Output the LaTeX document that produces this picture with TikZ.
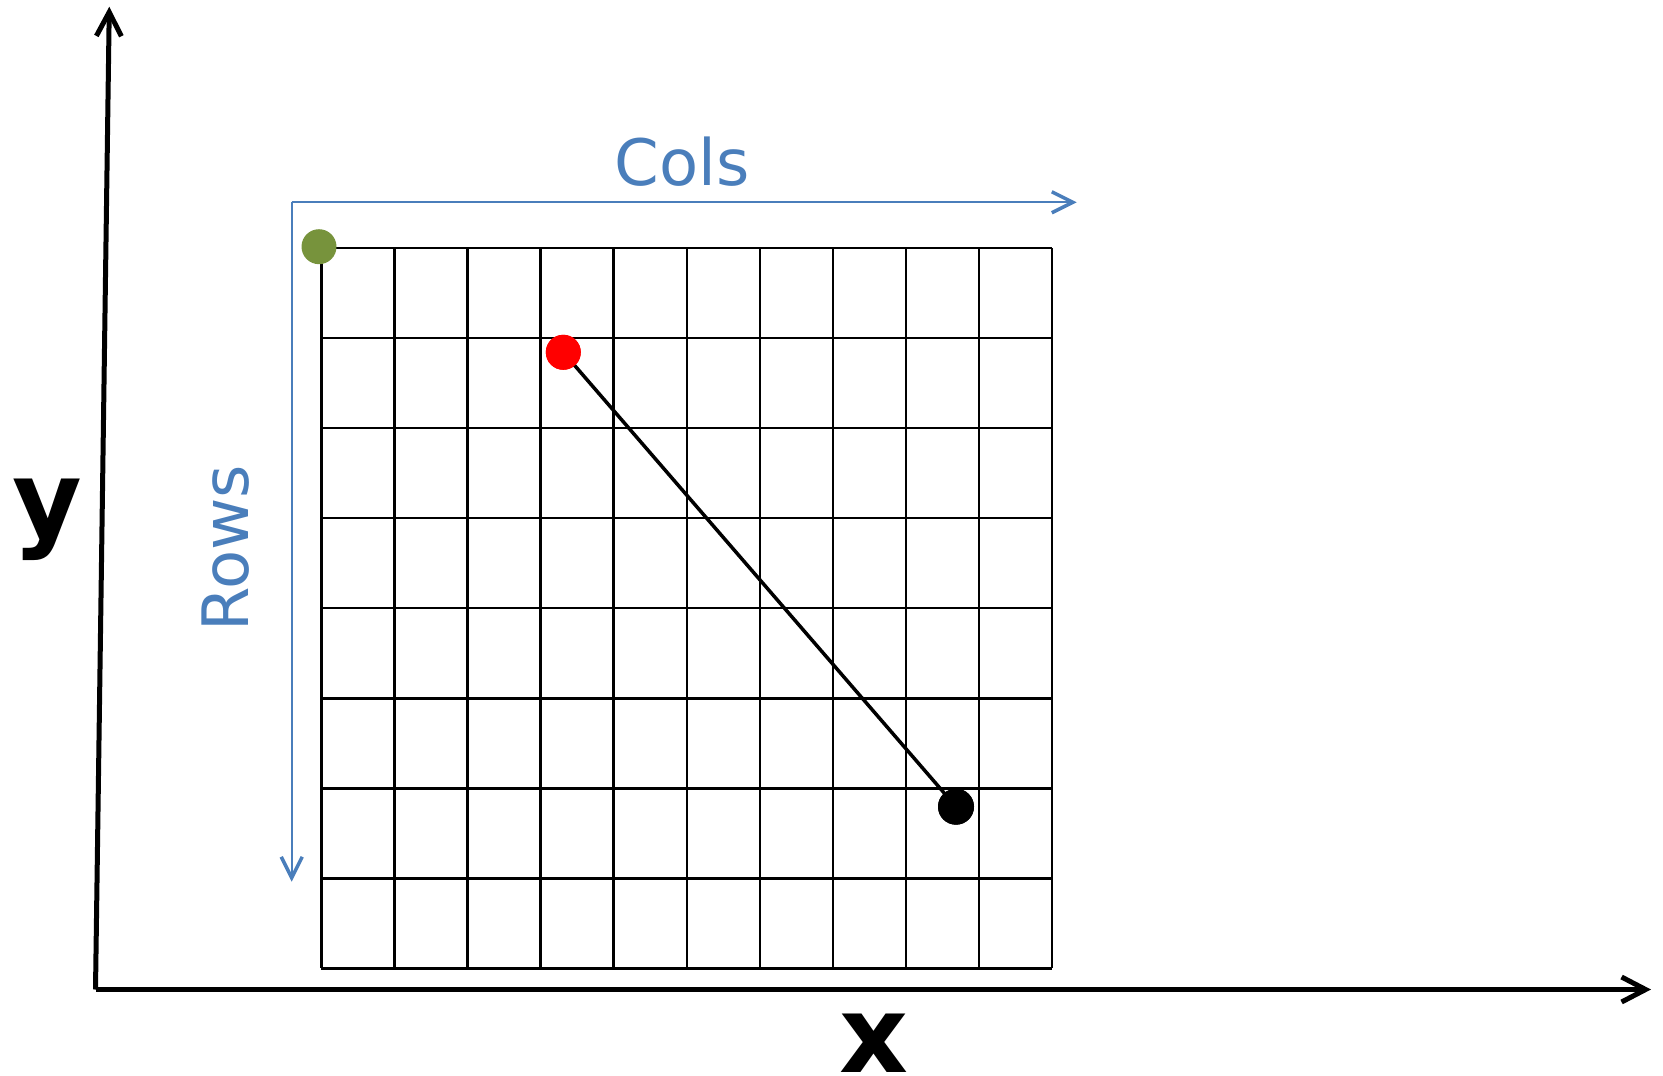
\documentclass[tikz,border=0pt]{standalone}
\usepackage{fontspec}
\setmainfont{DejaVu Sans}
\usetikzlibrary{arrows.meta}
\definecolor{axisblue}{HTML}{4A7EBB}
\definecolor{dotgreen}{HTML}{77933C}
\tikzset{
  axisline/.style={line width=5pt, black},
  bluearrow/.style={line width=2pt, axisblue, -{Straight Barb[length=21pt, width=21pt, line width=3.5pt]}},
  gridline/.style={line width=2.5pt, black},
  dot/.style={circle, inner sep=0pt, minimum size=35pt, fill=#1, draw=none},
  bluetext/.style={text=axisblue, font=\fontsize{64}{70}\selectfont},
  axistext/.style={text=black, font=\bfseries\fontsize{107}{110}\selectfont},
}
\begin{document}
\begin{tikzpicture}[x=1pt, y=-1pt]
\useasboundingbox (0,0) rectangle (1663,1076);
% grid
\foreach \i in {0,...,10} {
  \draw[gridline] ({321.4+\i*73.07},248.2) -- ({321.4+\i*73.07},968.3);
}
\foreach \j in {0,...,8} {
  \draw[gridline] (321.4,{248.2+\j*90.01}) -- (1052.1,{248.2+\j*90.01});
}
% axes
\coordinate (origin) at (95.5,989.5);
\coordinate (ytip) at (109.3,6.7);
\coordinate (xtip) at (1651,989.5);
\draw[axisline, -{Straight Barb[length=24pt, width=25pt]}] (origin) -- (ytip);
\draw[axisline, -{Straight Barb[length=24pt, width=25pt]}] (origin) -- (xtip);
% cols / rows arrows
\coordinate (corner) at (291.7,202.3);
\coordinate (colstip) at (1076.7,202.3);
\coordinate (rowstip) at (291.7,881.7);
\draw[bluearrow] (corner) -- (colstip);
\draw[bluearrow] (corner) -- (rowstip);
% dots and segment
\node[dot=dotgreen] (green) at (319,246.7) {};
\node[dot=red] (reddot) at (563.3,352.3) {};
\node[dot=black, minimum size=36pt] (blackdot) at (956,806.7) {};
\draw[line width=3.5pt, black] (reddot.center) -- (blackdot.center);
\node[dot=red] at (reddot.center) {};
\node[dot=black, minimum size=36pt] at (blackdot.center) {};
% labels
\node[bluetext, anchor=base, inner sep=0pt] (cols) at (682,185.7) {Cols};
\node[bluetext, anchor=base, rotate=90, inner sep=0pt] (rows) at (248.3,548) {Rows};
\node[axistext, anchor=base, inner sep=0pt] (ylab) at (47.5,537.5) {y};
\node[axistext, anchor=base, inner sep=0pt] (xlab) at (873.5,1072) {x};
\end{tikzpicture}
\end{document}
